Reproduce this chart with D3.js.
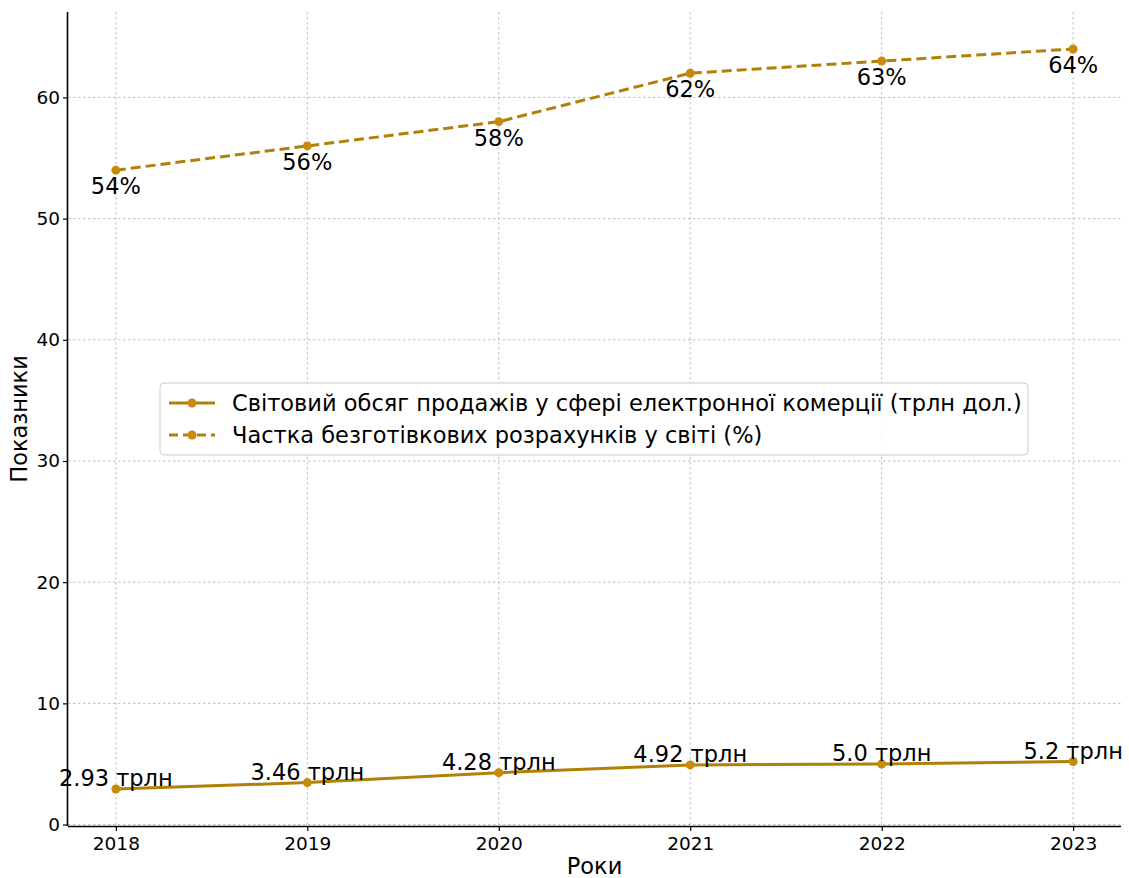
<!DOCTYPE html>
<html><head><meta charset="utf-8">
<script src="https://cdn.jsdelivr.net/npm/d3@7"></script>
<style>body{margin:0;background:#fff;}svg{display:block;font-family:"DejaVu Sans",sans-serif;}</style>
</head><body><svg id="c" width="1129" height="878"></svg>
<script>
const years = [2018, 2019, 2020, 2021, 2022, 2023];
const salesValues = [2.93, 3.46, 4.28, 4.92, 5.0, 5.2];
const salesLabels = ["2.93 трлн", "3.46 трлн", "4.28 трлн", "4.92 трлн", "5.0 трлн", "5.2 трлн"];
const cashlessValues = [54, 56, 58, 62, 63, 64];
const cashlessLabels = ["54%", "56%", "58%", "62%", "63%", "64%"];
const yTicks = [0, 10, 20, 30, 40, 50, 60];
const seriesNames = ["Світовий обсяг продажів у сфері електронної комерції (трлн дол.)", "Частка безготівкових розрахунків у світі (%)"];
const xTitle = "Роки", yTitle = "Показники";

const svg = d3.select("#c");
const L = 68, R = 1121, T = 12, B = 826;
const x = d3.scaleLinear().domain([2017.75, 2023.25]).range([L, R]);
const y = d3.scaleLinear().domain([-0.12, 67.05]).range([B, T]);
const color = "#b08009";

// grid
const g = svg.append("g");
g.selectAll(".gx").data(years).join("line")
  .attr("x1", d => x(d)).attr("x2", d => x(d)).attr("y1", T).attr("y2", B)
  .attr("stroke", "#b0b0b0").attr("stroke-width", 0.8).attr("stroke-dasharray", "2.5,2.5");
g.selectAll(".gy").data(yTicks).join("line")
  .attr("x1", L).attr("x2", R).attr("y1", d => y(d)).attr("y2", d => y(d))
  .attr("stroke", "#b0b0b0").attr("stroke-width", 0.8).attr("stroke-dasharray", "2.5,2.5");

// axes
const xa = svg.append("g").attr("transform", `translate(0,${B})`)
  .call(d3.axisBottom(x).tickValues(years).tickFormat(d3.format("d")).tickSizeOuter(0).tickSize(5));
const ya = svg.append("g").attr("transform", `translate(${L},0)`)
  .call(d3.axisLeft(y).tickValues(yTicks).tickSizeOuter(0).tickSize(5));
[xa, ya].forEach(a => {
  a.select(".domain").attr("stroke", "#000").attr("stroke-width", 1.6);
  a.selectAll(".tick line").attr("stroke", "#000").attr("stroke-width", 1.2);
  a.selectAll("text").attr("font-family", "DejaVu Sans").attr("font-size", 18.5).attr("fill", "#000");
});
xa.select(".domain").attr("d", `M${L},0.5H${R}`);
ya.select(".domain").attr("d", `M-0.5,${B}V${T}`);
xa.selectAll("text").attr("dy", "0.88em");
ya.selectAll("text").attr("x", -8);

svg.append("text").attr("x", (L + R) / 2).attr("y", 874).attr("text-anchor", "middle")
  .attr("font-size", 22.5).text(xTitle);
svg.append("text").attr("transform", `translate(27,${(T + B) / 2}) rotate(-90)`).attr("text-anchor", "middle")
  .attr("font-size", 22.5).text(yTitle);

// lines
const line = d3.line().x((d, i) => x(years[i])).y(d => y(d));
svg.append("path").datum(salesValues).attr("d", line).attr("fill", "none")
  .attr("stroke", color).attr("stroke-width", 3);
svg.append("path").datum(cashlessValues).attr("d", line).attr("fill", "none")
  .attr("stroke", color).attr("stroke-width", 3).attr("stroke-dasharray", "10,5");
[salesValues, cashlessValues].forEach(vals => {
  svg.append("g").selectAll("circle").data(vals).join("circle")
    .attr("cx", (d, i) => x(years[i])).attr("cy", d => y(d)).attr("r", 4.5).attr("fill", "#c98a0c");
});

// annotations
svg.append("g").selectAll("text").data(salesValues).join("text")
  .attr("x", (d, i) => x(years[i])).attr("y", d => y(d) - 3)
  .attr("text-anchor", "middle").attr("font-size", 22.5).text((d, i) => salesLabels[i]);
svg.append("g").selectAll("text").data(cashlessValues).join("text")
  .attr("x", (d, i) => x(years[i])).attr("y", d => y(d) + 24)
  .attr("text-anchor", "middle").attr("font-size", 22.5).text((d, i) => cashlessLabels[i]);

// legend
const lg = svg.append("g").attr("transform", "translate(160,383)");
lg.append("rect").attr("x", 0).attr("y", 0).attr("width", 868).attr("height", 72).attr("rx", 4)
  .attr("fill", "#fff").attr("fill-opacity", 0.85).attr("stroke", "#cccccc").attr("stroke-width", 1);
seriesNames.forEach((name, i) => {
  const yy = 20 + i * 32;
  lg.append("line").attr("x1", 9).attr("x2", 55).attr("y1", yy).attr("y2", yy)
    .attr("stroke", color).attr("stroke-width", 3).attr("stroke-dasharray", i ? "9,5" : null);
  lg.append("circle").attr("cx", 32).attr("cy", yy).attr("r", 4.5).attr("fill", "#c98a0c");
  lg.append("text").attr("x", 72).attr("y", yy + 8).attr("font-size", 22.5).text(name);
});
</script></body></html>
